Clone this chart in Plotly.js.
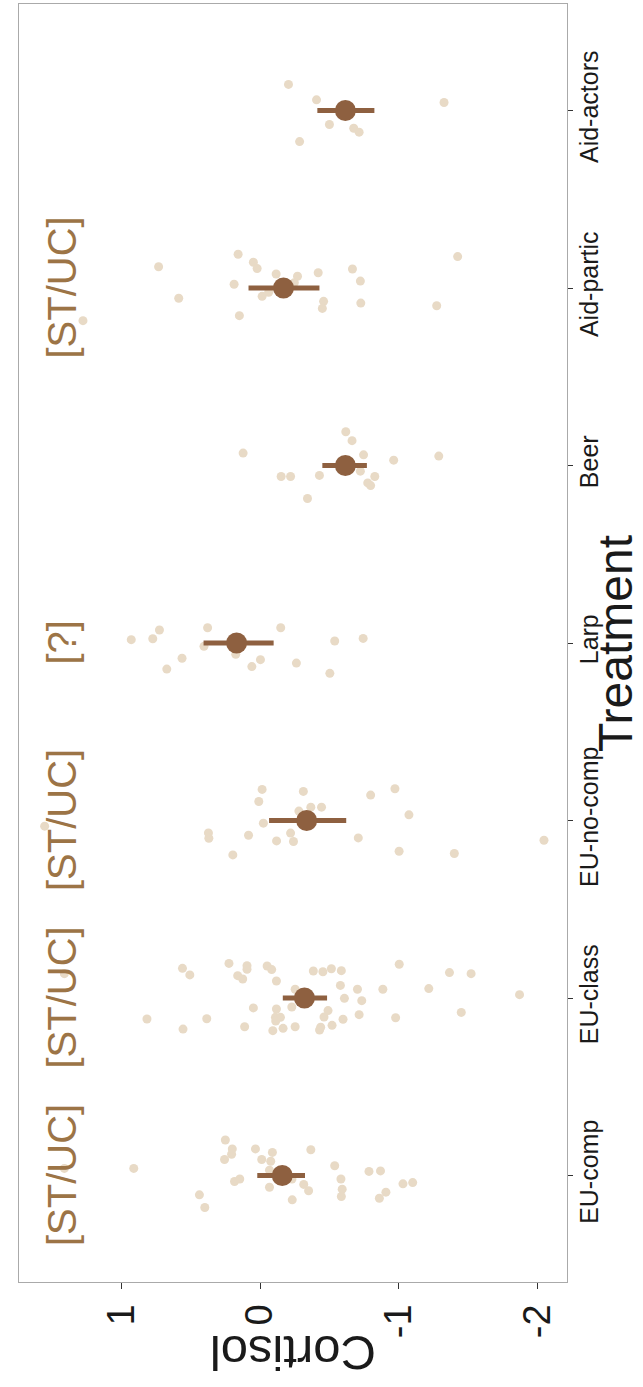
<!DOCTYPE html>
<html>
<head>
<meta charset="utf-8">
<script src="https://cdn.plot.ly/plotly-3.0.1.min.js"></script>
<style>
  html, body { margin: 0; padding: 0; background: #ffffff; }
  #chart { width: 643px; height: 1387px; }
</style>
</head>
<body>
<div id="chart"></div>
<script>
// Categories (bottom to top in the picture)
const categories = ["EU-comp", "EU-class", "EU-no-comp", "Larp", "Beer", "Aid-partic", "Aid-actors"];

// Individual cortisol values per treatment, and their jitter (in category units, positive = towards the lower category)
const euCompValues = [0.91, 1.41, 0.25, 0.20, 0.205, 0.256, 0.033, -0.089, -0.012, -0.077, -0.366, -0.538, 0.184, 0.146, -0.068, -0.23, -0.315, -0.35, -0.232, 0.437, 0.398, -0.583, -0.592, -0.586, -0.785, -0.868, -1.03, -1.10, -0.907, -0.86, -0.068];
const euCompJitter = [-0.04, -0.04, -0.20, -0.15, -0.12, -0.09, -0.15, -0.13, -0.09, -0.08, -0.145, -0.055, 0.034, 0.02, 0.066, 0.02, 0.05, 0.086, 0.137, 0.109, 0.18, 0.02, 0.077, 0.118, -0.023, -0.026, 0.047, 0.04, 0.094, 0.128, -0.03];

const euClassValues = [0.559, 0.506, 0.224, 0.094, 0.094, 0.161, 0.125, -0.051, -0.084, -0.118, -0.384, -0.453, -0.514, -0.586, -0.579, -0.702, -0.253, -0.608, -0.733, -0.885, -1.003, -1.216, -1.365, -1.521, -1.45, -0.977, -0.714, -0.598, -0.519, -0.49, -0.461, -0.437, -0.429, -0.253, -0.229, -0.118, -0.111, -0.147, -0.113, -0.166, -0.092, 0.048, 0.111, 0.384, 0.555, 1.41, 0.815, -1.87];
const euClassJitter = [-0.167, -0.13, -0.195, -0.182, -0.162, -0.126, -0.107, -0.18, -0.16, -0.096, -0.152, -0.148, -0.165, -0.154, -0.071, -0.049, -0.049, 0.002, 0.015, -0.049, -0.19, -0.053, -0.143, -0.137, 0.081, 0.111, 0.094, 0.12, 0.154, 0.071, 0.107, 0.165, 0.18, 0.162, 0.051, 0.062, 0.109, 0.109, 0.13, 0.171, 0.184, 0.056, 0.162, 0.117, 0.175, -0.137, 0.118, -0.019];

const euNoCompValues = [-0.015, -0.312, 0.009, -0.797, -0.972, -0.28, -0.366, -0.443, -1.073, -0.024, 1.552, 0.372, 0.369, 0.083, -0.119, -0.22, -0.241, -0.708, 0.196, -1.002, -1.40, -2.046];
const euNoCompJitter = [-0.175, -0.164, -0.107, -0.143, -0.179, -0.053, -0.075, -0.075, -0.032, 0.015, 0.032, 0.07, 0.10, 0.083, 0.115, 0.071, 0.118, 0.098, 0.194, 0.173, 0.186, 0.111];

const larpValues = [0.928, 0.773, 0.725, 0.378, -0.149, 0.562, 0.672, 0.404, 0.175, 0.059, -0.003, -0.262, -0.503, -0.538, -0.743];
const larpJitter = [-0.019, -0.024, -0.073, -0.086, -0.086, 0.086, 0.147, 0.019, 0.064, 0.133, 0.094, 0.113, 0.171, -0.011, -0.026];

const beerValues = [-0.618, -0.663, 0.122, -0.746, -0.963, -1.288, -0.723, -0.152, -0.22, -0.428, -0.827, -0.776, -0.797, -0.342];
const beerJitter = [-0.19, -0.14, -0.07, -0.06, -0.03, -0.053, 0.032, 0.062, 0.062, 0.056, 0.062, 0.098, 0.113, 0.186];

const aidParticValues = [0.158, 0.731, 0.048, 0.021, -0.116, -0.27, -0.419, -0.666, -0.723, 0.187, 0.586, -0.015, -0.062, -0.458, -0.449, -0.726, 0.149, 1.276, -1.273, -1.424, -0.247];
const aidParticJitter = [-0.19, -0.12, -0.145, -0.11, -0.079, -0.066, -0.086, -0.107, -0.039, -0.021, 0.058, 0.047, 0.024, 0.075, 0.115, 0.085, 0.156, 0.184, 0.10, -0.177, -0.03];

const aidActorsValues = [-0.205, -0.407, -0.50, -0.675, -0.714, -0.285, -1.326];
const aidActorsJitter = [-0.147, -0.06, 0.079, 0.10, 0.122, 0.175, -0.045];

// Group means and interval bounds
const meanValues = [-0.16, -0.32, -0.336, 0.169, -0.615, -0.169, -0.615];
const lowerValues = [-0.324, -0.483, -0.621, -0.098, -0.77, -0.428, -0.824];
const upperValues = [0.02, -0.164, -0.065, 0.407, -0.449, 0.083, -0.413];

// Significance labels per treatment
const sigLabels = ["[ST/UC]", "[ST/UC]", "[ST/UC]", "[?]", "", "[ST/UC]", ""];

// Axis ticks
const cortisolTicks = [1, 0, -1, -2];
const cortisolTickText = ["1", "0", "-1", "-2"];

const groupValues = [euCompValues, euClassValues, euNoCompValues, larpValues, beerValues, aidParticValues, aidActorsValues];
const groupJitter = [euCompJitter, euClassJitter, euNoCompJitter, larpJitter, beerJitter, aidParticJitter, aidActorsJitter];

const FONT = "Liberation Sans, Arial, Helvetica, sans-serif";
const DOT = "#E8DAC6";
const MEAN = "#8E6040";
const LABEL = "#9C7446";

const traces = [];
categories.forEach((c, i) => {
  traces.push({
    type: "scatter",
    mode: "markers",
    x: groupValues[i],
    y: groupJitter[i].map(j => i - j),
    marker: { color: DOT, size: 9, line: { width: 0 } },
    hoverinfo: "x",
    showlegend: false,
    name: c
  });
});

traces.push({
  type: "scatter",
  mode: "markers",
  x: meanValues,
  y: categories.map((c, i) => i),
  error_x: {
    type: "data",
    symmetric: false,
    array: upperValues.map((u, i) => u - meanValues[i]),
    arrayminus: meanValues.map((m, i) => m - lowerValues[i]),
    color: MEAN,
    thickness: 5,
    width: 0
  },
  marker: { color: MEAN, size: 21, line: { width: 0 } },
  showlegend: false,
  name: "mean"
});

const annotations = [];
sigLabels.forEach((t, i) => {
  if (!t) return;
  annotations.push({
    x: 1.43, y: i, xref: "x", yref: "y",
    text: t, showarrow: false, textangle: -90,
    xanchor: "center", yanchor: "middle",
    font: { family: FONT, size: 40, color: LABEL }
  });
});
annotations.push({
  x: 0.499, y: -0.056, xref: "paper", yref: "paper",
  text: "Cortisol", showarrow: false, textangle: 180,
  xanchor: "center", yanchor: "middle",
  font: { family: FONT, size: 49, color: "#1a1a1a" }
});
annotations.push({
  x: 1.0875, y: 0.5, xref: "paper", yref: "paper",
  text: "Treatment", showarrow: false, textangle: -90,
  xanchor: "center", yanchor: "middle",
  font: { family: FONT, size: 48, color: "#1a1a1a" }
});

const layout = {
  width: 643,
  height: 1387,
  margin: { l: 19, r: 76, t: 4, b: 105 },
  paper_bgcolor: "#ffffff",
  plot_bgcolor: "#ffffff",
  font: { family: FONT, color: "#1a1a1a" },
  xaxis: {
    range: [1.737, -2.212],
    tickmode: "array",
    tickvals: cortisolTicks,
    ticktext: cortisolTickText,
    tickangle: -90,
    tickfont: { family: FONT, size: 38, color: "#1a1a1a" },
    ticks: "outside", ticklen: 6, tickcolor: "#333333", tickwidth: 1,
    showgrid: false, zeroline: false,
    showline: true, mirror: true, linecolor: "#AAAAAA", linewidth: 1.2
  },
  yaxis: {
    range: [-0.6, 6.6],
    side: "right",
    tickmode: "array",
    tickvals: categories.map((c, i) => i),
    ticktext: categories,
    tickangle: -90,
    ticklabelstandoff: -5,
    tickfont: { family: FONT, size: 25, color: "#1a1a1a" },
    ticks: "outside", ticklen: 5, tickcolor: "#333333", tickwidth: 1,
    showgrid: false, zeroline: false,
    showline: true, mirror: true, linecolor: "#AAAAAA", linewidth: 1.2
  },
  annotations: annotations
};

Plotly.newPlot("chart", traces, layout, { displayModeBar: false, staticPlot: true });
</script>
</body>
</html>
